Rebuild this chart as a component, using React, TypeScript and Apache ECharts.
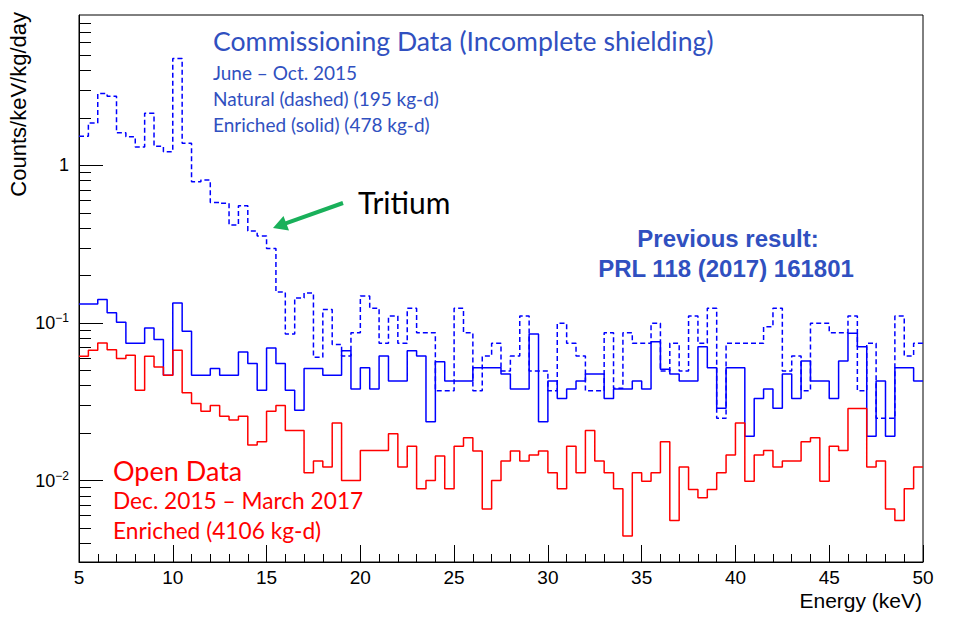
import React, { useEffect, useRef } from "react";
import * as echarts from "echarts";

// Histogram binning (keV)
const BIN_START = 5;
const BIN_WIDTH = 0.5;

// Commissioning data, natural detectors (dashed), counts/keV/kg/day
const naturalCommissioning = [
  1.53, 1.86, 2.86, 2.75, 1.61, 1.52, 1.31, 2.14, 1.32, 1.22,
  4.77, 1.38, 0.787, 0.807, 0.582, 0.574, 0.418, 0.554, 0.383, 0.356,
  0.297, 0.157, 0.0852, 0.144, 0.155, 0.0605, 0.1216, 0.0729, 0.0616, 0.0867,
  0.148, 0.124, 0.0742, 0.1106, 0.0742, 0.124, 0.0867, 0.0867, 0.0371, 0.0371,
  0.124, 0.0867, 0.0371, 0.0616, 0.0742, 0.0496, 0.0616, 0.1106, 0.0496, 0.0496,
  0.0371, 0.0994, 0.0742, 0.0616, 0.0371, 0.0371, 0.0867, 0.0385, 0.0867, 0.0742,
  0.0742, 0.0994, 0.0496, 0.0742, 0.0496, 0.1106, 0.0742, 0.124, 0.0248, 0.0742,
  0.0742, 0.0742, 0.0742, 0.0946, 0.124, 0.0496, 0.0616, 0.0371, 0.0994, 0.0994,
  0.0867, 0.0867, 0.1106, 0.0371, 0.0742, 0.0248, 0.0248, 0.1106, 0.0616, 0.0742,
];

// Commissioning data, enriched detectors (solid blue)
const enrichedCommissioning = [
  0.132, 0.132, 0.141, 0.116, 0.101, 0.0743, 0.0743, 0.093, 0.0784, 0.0466,
  0.134, 0.0885, 0.0466, 0.0466, 0.0513, 0.0466, 0.0466, 0.0655, 0.0552, 0.0374,
  0.0694, 0.0552, 0.0374, 0.0279, 0.0513, 0.0513, 0.0466, 0.0466, 0.0666, 0.0381,
  0.052, 0.0381, 0.0616, 0.0428, 0.0428, 0.0666, 0.0616, 0.0236, 0.0567, 0.0428,
  0.0428, 0.0428, 0.052, 0.052, 0.052, 0.0474, 0.0381, 0.0381, 0.0851, 0.0236,
  0.0428, 0.0332, 0.0381, 0.0428, 0.0474, 0.0474, 0.0332, 0.0381, 0.0381, 0.0428,
  0.0381, 0.076, 0.0509, 0.0474, 0.0428, 0.0428, 0.0706, 0.052, 0.0287, 0.052,
  0.052, 0.0191, 0.0332, 0.0381, 0.0287, 0.0474, 0.0332, 0.0573, 0.0428, 0.0428,
  0.0332, 0.0573, 0.0859, 0.0706, 0.0191, 0.0428, 0.0191, 0.052, 0.052, 0.0428,
];

// Open data, enriched detectors (red)
const openDataEnriched = [
  0.0615, 0.0671, 0.0747, 0.0677, 0.0594, 0.0624, 0.0374, 0.0615, 0.0526, 0.0466,
  0.0671, 0.036, 0.0308, 0.0275, 0.0299, 0.0256, 0.0242, 0.0256, 0.0168, 0.0176,
  0.0275, 0.0299, 0.0208, 0.0208, 0.0112, 0.0133, 0.0122, 0.0232, 0.01, 0.01,
  0.0155, 0.0155, 0.0155, 0.0198, 0.0122, 0.0165, 0.00885, 0.01, 0.0143, 0.00885,
  0.0165, 0.0187, 0.0154, 0.0066, 0.01, 0.0133, 0.0154, 0.0133, 0.0145, 0.0154,
  0.0112, 0.00885, 0.0165, 0.0112, 0.0208, 0.0133, 0.0112, 0.00885, 0.00444, 0.0112,
  0.0099, 0.0112, 0.0176, 0.00557, 0.0122, 0.00877, 0.00776, 0.00877, 0.0112, 0.0145,
  0.0232, 0.0099, 0.0145, 0.0155, 0.0122, 0.0133, 0.0133, 0.0176, 0.0187, 0.0099,
  0.0165, 0.0155, 0.0286, 0.0286, 0.0122, 0.0133, 0.0066, 0.00557, 0.00885, 0.0122,
];

// Axes
const X_MIN = 5;
const X_MAX = 50;
const X_STEP = 5;
const Y_MIN = 0.00304;
const Y_MAX = 9.0;
const yMajorTicks = [0.01, 0.1, 1];
const yMinorTicks = [
  0.004, 0.005, 0.006, 0.007, 0.008, 0.009,
  0.02, 0.03, 0.04, 0.05, 0.06, 0.07, 0.08, 0.09,
  0.2, 0.3, 0.4, 0.5, 0.6, 0.7, 0.8, 0.9,
  2, 3, 4, 5, 6, 7, 8,
];

const AXIS_FONT = "'Liberation Sans', Arial, Helvetica, sans-serif";
const NOTE_FONT = "Lato, 'Noto Sans', sans-serif";
const NOTE_BLUE = "#3050c0";

function toSteps(values: number[]): number[][] {
  const pts = values.map((v, i) => [BIN_START + i * BIN_WIDTH, Math.log10(v)]);
  pts.push([BIN_START + values.length * BIN_WIDTH, Math.log10(values[values.length - 1])]);
  return pts;
}

export default function App() {
  const ref = useRef<HTMLDivElement>(null);

  useEffect(() => {
    if (!ref.current) return;
    const chart = echarts.init(ref.current, undefined, { renderer: "svg" });

    const logMin = Math.log10(Y_MIN);
    const logMax = Math.log10(Y_MAX);

    const option: any = {
      animation: false,
      backgroundColor: "#ffffff",
      grid: {
        left: 79,
        right: 34,
        top: 15,
        bottom: 57,
        show: true,
        borderColor: "#000",
        borderWidth: 1,
        backgroundColor: "transparent",
      },
      xAxis: {
        type: "value",
        min: X_MIN,
        max: X_MAX,
        interval: X_STEP,
        axisLine: { show: true, onZero: false, lineStyle: { color: "#000", width: 1 } },
        axisTick: { show: true, inside: true, length: 17, lineStyle: { color: "#000", width: 1 } },
        minorTick: { show: true, splitNumber: 5, length: 8, lineStyle: { color: "#000", width: 1 } },
        splitLine: { show: false },
        axisLabel: { color: "#000", fontFamily: AXIS_FONT, fontSize: 19, margin: 6 },
      },
      yAxis: [
        {
          type: "value",
          position: "left",
          offset: 0,
          min: logMin,
          max: logMax,
          axisLine: { show: true, onZero: false, lineStyle: { color: "#000", width: 1 } },
          axisTick: {
            show: true,
            inside: true,
            length: 24,
            customValues: yMajorTicks.map((v) => Math.log10(v)),
            lineStyle: { color: "#000", width: 1 },
          },
          splitLine: { show: false },
          axisLabel: {
            customValues: yMajorTicks.map((v) => Math.log10(v)),
            margin: 10,
            color: "#000",
            fontFamily: AXIS_FONT,
            formatter: (val: number) => {
              const e = Math.round(val);
              if (e === 0) return "{b|1}";
              return "{b|10}{s|\u2212" + Math.abs(e) + "}";
            },
            rich: {
              b: { fontSize: 18, fontFamily: AXIS_FONT, color: "#000", lineHeight: 22 },
              s: { fontSize: 12, fontFamily: AXIS_FONT, color: "#000", verticalAlign: "top", lineHeight: 12 },
            },
          },
        },
        {
          type: "value",
          position: "left",
          offset: 0,
          min: logMin,
          max: logMax,
          axisLine: { show: false },
          axisTick: {
            show: true,
            inside: true,
            length: 12,
            customValues: yMinorTicks.map((v) => Math.log10(v)),
            lineStyle: { color: "#000", width: 1 },
          },
          axisLabel: { show: false },
          splitLine: { show: false },
        },
      ],
      series: [
        {
          name: "Natural (dashed)",
          type: "line",
          step: "end",
          showSymbol: false,
          symbol: "none",
          data: toSteps(naturalCommissioning),
          lineStyle: { color: "#0000ff", width: 1.5, type: [5, 3] },
          z: 2,
        },
        {
          name: "Enriched (solid)",
          type: "line",
          step: "end",
          showSymbol: false,
          symbol: "none",
          data: toSteps(enrichedCommissioning),
          lineStyle: { color: "#0000ff", width: 1.5 },
          z: 3,
        },
        {
          name: "Open Data",
          type: "line",
          step: "end",
          showSymbol: false,
          symbol: "none",
          data: toSteps(openDataEnriched),
          lineStyle: { color: "#ff0000", width: 1.5 },
          z: 4,
        },
      ],
      graphic: [
        {
          type: "text",
          x: 18,
          y: 12,
          rotation: Math.PI / 2,
          style: {
            text: "Counts/keV/kg/day",
            fontFamily: AXIS_FONT,
            fontSize: 22,
            fill: "#000",
            align: "right",
            verticalAlign: "middle",
          },
        },
        {
          type: "text",
          x: 922,
          y: 600,
          style: {
            text: "Energy (keV)",
            fontFamily: AXIS_FONT,
            fontSize: 21,
            fill: "#000",
            align: "right",
            verticalAlign: "middle",
          },
        },
        {
          type: "text",
          x: 213,
          y: 41,
          style: { text: "Commissioning Data (Incomplete shielding)", fontFamily: NOTE_FONT, fontSize: 26.6, fill: NOTE_BLUE, align: "left", verticalAlign: "middle" },
        },
        {
          type: "text",
          x: 213,
          y: 72,
          style: { text: "June \u2013 Oct. 2015", fontFamily: NOTE_FONT, fontSize: 19, fill: NOTE_BLUE, align: "left", verticalAlign: "middle" },
        },
        {
          type: "text",
          x: 213,
          y: 98,
          style: { text: "Natural (dashed) (195 kg-d)", fontFamily: NOTE_FONT, fontSize: 19, fill: NOTE_BLUE, align: "left", verticalAlign: "middle" },
        },
        {
          type: "text",
          x: 213,
          y: 124,
          style: { text: "Enriched (solid) (478 kg-d)", fontFamily: NOTE_FONT, fontSize: 19, fill: NOTE_BLUE, align: "left", verticalAlign: "middle" },
        },
        {
          type: "text",
          x: 358,
          y: 202,
          style: { text: "Tritium", fontFamily: NOTE_FONT, fontSize: 30, fill: "#000", align: "left", verticalAlign: "middle" },
        },
        {
          type: "line",
          shape: { x1: 343, y1: 203, x2: 285, y2: 223.7 },
          style: { stroke: "#19b05a", lineWidth: 4 },
        },
        {
          type: "polygon",
          shape: { points: [[273, 228], [289, 230.5], [283.5, 216]] },
          style: { fill: "#19b05a" },
        },
        {
          type: "text",
          x: 728,
          y: 238,
          style: { text: "Previous result:", fontFamily: AXIS_FONT, fontWeight: "bold", fontSize: 24, fill: NOTE_BLUE, align: "center", verticalAlign: "middle" },
        },
        {
          type: "text",
          x: 726,
          y: 268,
          style: { text: "PRL 118 (2017) 161801", fontFamily: AXIS_FONT, fontWeight: "bold", fontSize: 24, fill: NOTE_BLUE, align: "center", verticalAlign: "middle" },
        },
        {
          type: "text",
          x: 113,
          y: 470,
          style: { text: "Open Data", fontFamily: NOTE_FONT, fontSize: 27, fill: "#ff0000", align: "left", verticalAlign: "middle" },
        },
        {
          type: "text",
          x: 113,
          y: 500,
          style: { text: "Dec. 2015 \u2013 March 2017", fontFamily: NOTE_FONT, fontSize: 22.7, fill: "#ff0000", align: "left", verticalAlign: "middle" },
        },
        {
          type: "text",
          x: 113,
          y: 530,
          style: { text: "Enriched (4106 kg-d)", fontFamily: NOTE_FONT, fontSize: 22.7, fill: "#ff0000", align: "left", verticalAlign: "middle" },
        },
      ],
    };

    chart.setOption(option);
    return () => chart.dispose();
  }, []);

  return (
    <div
      ref={ref}
      style={{ position: "fixed", left: 0, top: 0, width: 957, height: 619, background: "#fff" }}
    />
  );
}
